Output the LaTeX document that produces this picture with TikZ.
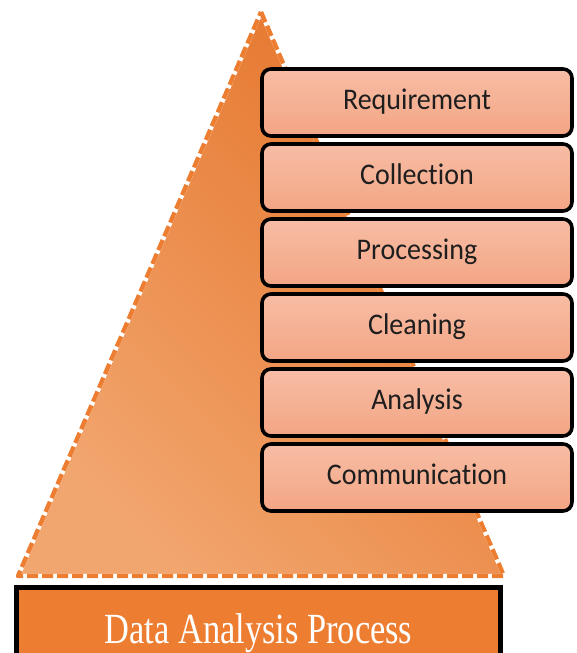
\documentclass[tikz,border=0pt]{standalone}
\usepackage{fontspec}
\setmainfont{Liberation Serif}
\newfontfamily\stagefont[Ligatures=NoCommon]{Carlito}
\definecolor{accent}{HTML}{ED7D31}
\definecolor{pyrlight}{HTML}{F2A66F}
\definecolor{pyrmid}{HTML}{EE8C47}
\definecolor{pyrdark}{HTML}{E5752B}
\definecolor{stagetop}{HTML}{F7BDA5}
\definecolor{stagebot}{HTML}{F3A584}
\definecolor{stagetext}{HTML}{1E1E1E}
\tikzset{
  stage/.style={draw=black, line width=3.6pt, rounded corners=9pt,
    top color=stagetop, bottom color=stagebot,
    minimum width=310pt, minimum height=67pt, inner sep=0pt,
    text height=20pt, text depth=6pt, text=stagetext,
    font=\stagefont\fontsize{28}{30}\selectfont},
  basebox/.style={draw=black, line width=5pt, fill=accent,
    minimum width=484pt, minimum height=82pt, inner sep=0pt},
  pyredge/.style={line width=4.4pt, line join=round}
}
\begin{document}
\begin{tikzpicture}[x=1pt,y=-1pt]
  \useasboundingbox (0,0) rectangle (576,653);
  \clip (0,0) rectangle (576,653);

  % pyramid with dashed outline
  \coordinate (apex) at (261,12);
  \coordinate (bl) at (18,576);
  \coordinate (br) at (504,576);
  \shade[top color=pyrdark, middle color=pyrmid, bottom color=pyrlight, shading angle=-45]
    (apex) -- (br) -- (bl) -- cycle;
  \draw[pyredge, white] (apex) -- (br) -- (bl) -- cycle;
  \draw[pyredge, accent, dash pattern=on 11pt off 4pt] (apex) -- (br) -- (bl) -- cycle;

  % base bar
  \node[basebox] (base) at (258.5,628.5) {};
  \node[anchor=base, text=white, inner sep=0pt, font=\fontsize{34.4}{36}\selectfont]
    (title) at (258.5,643) {\scalebox{1}[1.25]{Data Analysis Process}};

  % process stages
  \node[stage] (s1) at (417,102.5) {\scalebox{1}[1.07]{Requirement}};
  \node[stage] (s2) at (417,177.5) {\scalebox{1}[1.07]{Collection}};
  \node[stage] (s3) at (417,252.5) {\scalebox{1}[1.07]{Processing}};
  \node[stage] (s4) at (417,327.5) {\scalebox{1}[1.07]{Cleaning}};
  \node[stage] (s5) at (417,402.5) {\scalebox{1}[1.07]{Analysis}};
  \node[stage] (s6) at (417,477.5) {\scalebox{1}[1.07]{Communication}};
\end{tikzpicture}
\end{document}
